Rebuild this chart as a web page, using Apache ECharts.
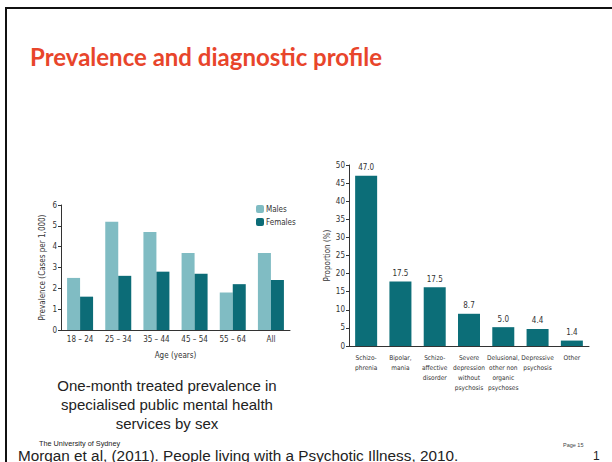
<!DOCTYPE html>
<html>
<head>
<meta charset="utf-8">
<script src="https://cdn.jsdelivr.net/npm/echarts@6/dist/echarts.min.js"></script>
<style>
  html, body { margin: 0; padding: 0; background: #fff; }
  #slide { width: 612px; height: 462px; }
</style>
</head>
<body>
<div id="slide"></div>
<script>
// left chart: prevalence by age and sex
var ageGroups = ['18 – 24', '25 – 34', '35 – 44', '45 – 54', '55 – 64', 'All'];
var males = [2.5, 5.2, 4.7, 3.7, 1.8, 3.7];
var females = [1.6, 2.6, 2.8, 2.7, 2.2, 2.4];

// right chart: diagnostic profile
var diagnoses = ['Schizo-\nphrenia', 'Bipolar,\nmania', 'Schizo-\naffective\ndisorder',
  'Severe\ndepression\nwithout\npsychosis', 'Delusional,\nother non\norganic\npsychoses',
  'Depressive\npsychosis', 'Other'];
var proportion = [47.0, 17.8, 16.2, 8.9, 5.2, 4.7, 1.5];
var proportionLabels = ['47.0', '17.5', '17.5', '8.7', '5.0', '4.4', '1.4'];

var narrow = '"DejaVu Sans Condensed", "Liberation Sans Narrow", "Liberation Sans", sans-serif';
var sans = '"Liberation Sans", Arial, sans-serif';
var axisCol = '#333';

var chart = echarts.init(document.getElementById('slide'), null, { renderer: 'svg' });

var option = {
  animation: false,
  backgroundColor: '#fff',
  title: [
    {
      text: 'Prevalence and diagnostic profile',
      left: 30, top: 43, padding: 0,
      textStyle: { color: '#e8452b', fontSize: 24, lineHeight: 26, fontWeight: 'bold', fontFamily: 'Lato, sans-serif' }
    },
    {
      text: 'One-month treated prevalence in\nspecialised public mental health\nservices by sex',
      left: 167, top: 376, padding: 0, textAlign: 'center',
      textStyle: { color: '#222', fontSize: 15, fontWeight: 'normal', lineHeight: 19, fontFamily: sans }
    },
    {
      text: 'The University of Sydney',
      left: 39, top: 439, padding: 0,
      textStyle: { color: '#222', fontSize: 7.3, lineHeight: 8, fontWeight: 'normal', fontFamily: sans }
    },
    {
      text: 'Morgan et al, (2011). People living with a Psychotic Illness, 2010.',
      left: 18, top: 448, padding: 0,
      textStyle: { color: '#222', fontSize: 15.3, lineHeight: 14, fontWeight: 'normal', fontFamily: sans }
    },
    {
      text: 'Page 15',
      left: 563, top: 442, padding: 0,
      textStyle: { color: '#444', fontSize: 5.5, lineHeight: 6, fontWeight: 'normal', fontFamily: sans }
    },
    {
      text: '1',
      left: 593, top: 450, padding: 0,
      textStyle: { color: '#222', fontSize: 12, lineHeight: 11, fontWeight: 'normal', fontFamily: sans }
    }
  ],
  graphic: [
    { type: 'rect', shape: { x: 5, y: 7, width: 620, height: 2 }, style: { fill: '#111' } },
    { type: 'rect', shape: { x: 5, y: 7, width: 2, height: 470 }, style: { fill: '#111' } }
  ],
  legend: {
    data: ['Males', 'Females'],
    orient: 'vertical',
    left: 256, top: 205, padding: 0,
    itemWidth: 8, itemHeight: 8, itemGap: 5,
    textStyle: { fontSize: 8, color: '#333', fontFamily: narrow, padding: [0, 0, 0, -3] }
  },
  grid: [
    { left: 61, top: 205, width: 229, height: 125 },
    { left: 349, top: 165, width: 240, height: 181 }
  ],
  xAxis: [
    {
      gridIndex: 0, type: 'category', data: ageGroups,
      name: 'Age (years)', nameLocation: 'middle', nameGap: 21,
      nameTextStyle: { fontSize: 8, color: '#333', fontFamily: narrow },
      axisLine: { lineStyle: { color: axisCol, width: 1 } },
      axisTick: { length: 3, lineStyle: { color: axisCol } },
      axisLabel: { fontSize: 8, color: '#333', fontFamily: narrow, margin: 5 }
    },
    {
      gridIndex: 1, type: 'category', data: diagnoses,
      axisLine: { lineStyle: { color: axisCol, width: 1 } },
      axisTick: { length: 3, lineStyle: { color: axisCol } },
      axisLabel: { fontSize: 6.5, color: '#333', fontFamily: narrow, margin: 7, lineHeight: 10, interval: 0 }
    }
  ],
  yAxis: [
    {
      gridIndex: 0, type: 'value', min: 0, max: 6, interval: 1,
      name: 'Prevalence (Cases per 1,000)', nameLocation: 'middle', nameGap: 15,
      nameTextStyle: { fontSize: 8, color: '#333', fontFamily: narrow },
      axisLine: { show: true, lineStyle: { color: axisCol, width: 1 } },
      axisTick: { show: true, length: 3, lineStyle: { color: axisCol } },
      axisLabel: { fontSize: 8, color: '#333', fontFamily: narrow, margin: 4 },
      splitLine: { show: false }
    },
    {
      gridIndex: 1, type: 'value', min: 0, max: 50, interval: 5,
      name: 'Proportion (%)', nameLocation: 'middle', nameGap: 18,
      nameTextStyle: { fontSize: 8, color: '#333', fontFamily: narrow },
      axisLine: { show: true, lineStyle: { color: axisCol, width: 1 } },
      axisTick: { show: true, length: 3, lineStyle: { color: axisCol } },
      axisLabel: { fontSize: 8, color: '#333', fontFamily: narrow, margin: 4 },
      splitLine: { show: false }
    }
  ],
  series: [
    {
      name: 'Males', type: 'bar', xAxisIndex: 0, yAxisIndex: 0,
      data: males, barWidth: 13, barGap: '0%',
      itemStyle: { color: '#80bcc3' }
    },
    {
      name: 'Females', type: 'bar', xAxisIndex: 0, yAxisIndex: 0,
      data: females, barWidth: 13, barGap: '0%',
      itemStyle: { color: '#0c6c77' }
    },
    {
      name: 'Proportion', type: 'bar', xAxisIndex: 1, yAxisIndex: 1,
      data: proportion, barWidth: 22,
      itemStyle: { color: '#0c6e78' },
      label: {
        show: true, position: 'top', distance: 4,
        fontSize: 8, color: '#333', fontFamily: narrow,
        formatter: function (p) { return proportionLabels[p.dataIndex]; }
      }
    }
  ]
};

chart.setOption(option);
</script>
</body>
</html>
